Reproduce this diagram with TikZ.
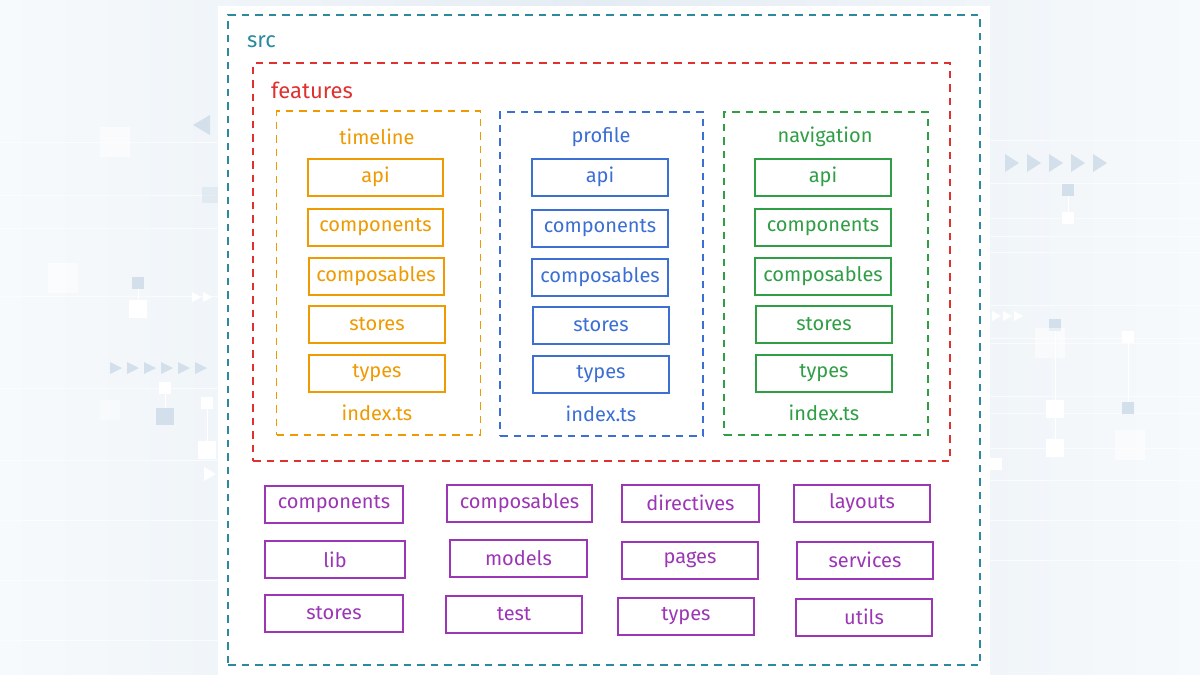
\documentclass[tikz,border=0pt]{standalone}
\usepackage{fontspec}
\setmainfont{Fira Sans}
\definecolor{cteal}{HTML}{2B8A9E}
\definecolor{cred}{HTML}{E03131}
\definecolor{corange}{HTML}{EE9A00}
\definecolor{cblue}{HTML}{3B6FD4}
\definecolor{cgreen}{HTML}{2F9E44}
\definecolor{cpurple}{HTML}{9C36B5}
\definecolor{bgmid}{HTML}{E4ECF3}
\definecolor{bgedge}{HTML}{F7FAFC}
\definecolor{deco}{HTML}{D3DFEA}
\begin{document}
\begin{tikzpicture}[x=1pt,y=-1pt,
  cont/.style={draw=#1, line width=1.8pt, dash pattern=on 7.5pt off 6pt, rectangle, inner sep=0pt},
  leaf/.style={draw=#1, text=#1, line width=2pt, rectangle, inner sep=0pt, minimum height=37pt, font=\fontsize{20}{22}\selectfont},
  ttl/.style={text=#1, inner sep=0pt, font=\fontsize{20}{22}\selectfont},
  bigttl/.style={text=#1, inner sep=0pt, font=\fontsize{22}{24}\selectfont},
  sq/.style={fill=#1, draw=none},
  tri/.style={fill=#1, draw=none}]
\useasboundingbox (0,0) rectangle (1200,675);
% background
\shade[left color=bgedge, right color=bgedge, middle color=bgmid, shading angle=90] (0,0) rectangle (1200,675);
% faint decorative lines
\foreach \yy in {142,195,228,296,388,460,520,580,640} {\draw[white, line width=0.7pt, opacity=0.6] (0,\yy) -- (218,\yy);}
\foreach \yy in {140,183,218,236,252,305,338,343,396,413,448,480,520,560} {\draw[white, line width=0.7pt, opacity=0.6] (990,\yy) -- (1200,\yy);}
\draw[white, line width=0.8pt] (138,283) -- (138,308);
\draw[white, line width=0.8pt] (165,388) -- (165,412);
\draw[white, line width=0.8pt] (207,403) -- (207,450);
\draw[white, line width=0.8pt] (1068,190) -- (1068,218);
\draw[white, line width=0.8pt] (1055,325) -- (1055,448);
\draw[white, line width=0.8pt] (1128,337) -- (1128,408);
% squares
\fill[sq=deco] (132,277) rectangle +(12,12);
\fill[sq=white] (129,300) rectangle +(18,18);
\fill[sq=white] (159,382) rectangle +(12,12);
\fill[sq=deco] (156,408) rectangle +(18,17);
\fill[sq=white] (201,397) rectangle +(12,12);
\fill[sq=white] (198,441) rectangle +(18,18);
\fill[sq=white, opacity=0.5] (100,127) rectangle +(30,30);
\fill[sq=white, opacity=0.5] (48,263) rectangle +(30,30);
\fill[sq=white, opacity=0.4] (100,400) rectangle +(20,20);
\fill[sq=deco, opacity=0.5] (202,187) rectangle +(16,16);
\fill[sq=deco] (1062,184) rectangle +(12,12);
\fill[sq=white] (1062,212) rectangle +(12,12);
\fill[sq=deco] (1049,319) rectangle +(12,12);
\fill[sq=white] (1046,400) rectangle +(18,18);
\fill[sq=white] (1046,439) rectangle +(18,18);
\fill[sq=white] (1122,331) rectangle +(12,12);
\fill[sq=deco] (1122,402) rectangle +(12,12);
\fill[sq=white, opacity=0.5] (1035,328) rectangle +(30,30);
\fill[sq=white, opacity=0.5] (1115,430) rectangle +(30,30);
\fill[sq=white] (990,458) rectangle +(12,12);
% triangles
\foreach \xx in {110,127,144,161,178,195} {\fill[tri=deco] (\xx,362) -- (\xx,374) -- (\xx+12,368) -- cycle;}
\foreach \xx in {1005,1027,1049,1071,1093} {\fill[tri=deco] (\xx,154) -- (\xx,172) -- (\xx+14,163) -- cycle;}
\foreach \xx in {192,203} {\fill[tri=white] (\xx,292) -- (\xx,302) -- (\xx+9,297) -- cycle;}
\foreach \xx in {992,1003,1014} {\fill[tri=white] (\xx,311) -- (\xx,321) -- (\xx+9,316) -- cycle;}
\fill[tri=deco] (210,115) -- (210,135) -- (193,125) -- cycle;
\fill[tri=white] (204,467) -- (204,481) -- (216,474) -- cycle;
% white panel
\fill[white] (218,6) rectangle (990,675);

% containers
\node[cont=cteal, minimum width=752pt, minimum height=650pt] (src) at (604,340) {};
\node[bigttl=cteal, anchor=west] (srcl) at (247,42) {src};
\node[cont=cred, minimum width=697pt, minimum height=398pt] (feat) at (601.5,262) {};
\node[bigttl=cred, anchor=west] (featl) at (271,90) {features};

% timeline
\node[cont=corange, minimum width=204pt, minimum height=324pt] (tl) at (378.5,273) {};
\node[ttl=corange] (tlt) at (377,137) {timeline};
\node[leaf=corange, minimum width=135pt] (tl1) at (375.5,177) {api};
\node[leaf=corange, minimum width=135pt] (tl2) at (375.5,227) {components};
\node[leaf=corange, minimum width=135pt] (tl3) at (376,276) {composables};
\node[leaf=corange, minimum width=136pt] (tl4) at (377,324) {stores};
\node[leaf=corange, minimum width=136pt] (tl5) at (377,373) {types};
\node[ttl=corange] (tli) at (377,413) {index.ts};

% profile
\node[cont=cblue, minimum width=203pt, minimum height=324pt] (pr) at (601.5,274) {};
\node[ttl=cblue] (prt) at (601,137) {profile};
\node[leaf=cblue, minimum width=136pt] (pr1) at (600,177) {api};
\node[leaf=cblue, minimum width=136pt] (pr2) at (600,228) {components};
\node[leaf=cblue, minimum width=136pt] (pr3) at (600,277) {composables};
\node[leaf=cblue, minimum width=136pt] (pr4) at (601,325) {stores};
\node[leaf=cblue, minimum width=136pt] (pr5) at (601,374) {types};
\node[ttl=cblue] (pri) at (601,414) {index.ts};

% navigation
\node[cont=cgreen, minimum width=204pt, minimum height=323pt] (nv) at (826,273.5) {};
\node[ttl=cgreen] (nvt) at (825,137) {navigation};
\node[leaf=cgreen, minimum width=136pt] (nv1) at (823,177) {api};
\node[leaf=cgreen, minimum width=136pt] (nv2) at (823,227) {components};
\node[leaf=cgreen, minimum width=136pt] (nv3) at (823,276) {composables};
\node[leaf=cgreen, minimum width=136pt] (nv4) at (824,324) {stores};
\node[leaf=cgreen, minimum width=136pt] (nv5) at (824,373) {types};
\node[ttl=cgreen] (nvi) at (824,413) {index.ts};

% bottom folders
\node[leaf=cpurple, minimum width=138pt] (b1) at (334,504) {components};
\node[leaf=cpurple, minimum width=145pt] (b2) at (519.5,503) {composables};
\node[leaf=cpurple, minimum width=137pt] (b3) at (690.5,503) {directives};
\node[leaf=cpurple, minimum width=136pt] (b4) at (862,503) {layouts};
\node[leaf=cpurple, minimum width=140pt] (b5) at (335,559.5) {lib};
\node[leaf=cpurple, minimum width=137pt] (b6) at (518.5,558) {models};
\node[leaf=cpurple, minimum width=136pt] (b7) at (690,560) {pages};
\node[leaf=cpurple, minimum width=136pt] (b8) at (865,560) {services};
\node[leaf=cpurple, minimum width=138pt] (b9) at (334,613) {stores};
\node[leaf=cpurple, minimum width=136pt] (b10) at (514,614) {test};
\node[leaf=cpurple, minimum width=136pt] (b11) at (686,616) {types};
\node[leaf=cpurple, minimum width=136pt] (b12) at (864,617) {utils};
\end{tikzpicture}
\end{document}
